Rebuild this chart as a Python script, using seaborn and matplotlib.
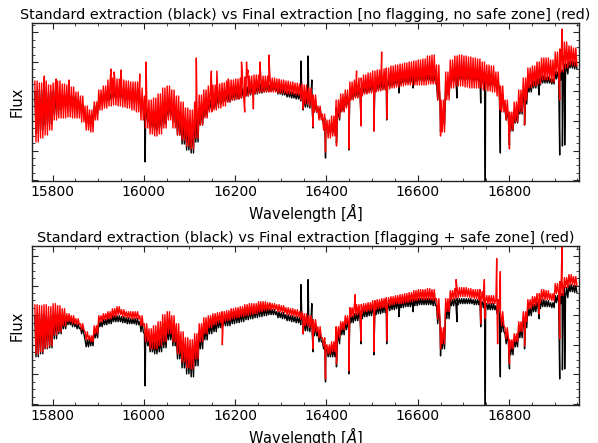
import numpy as np
import pandas as pd
import matplotlib
matplotlib.use("Agg")
import matplotlib.pyplot as plt
from matplotlib.ticker import MultipleLocator, NullFormatter
import seaborn as sns

# ---------------- data (flux in arbitrary units) ----------------
# start wavelength of each 10 A bin
bin_start = list(range(15760, 16950, 10))

# standard extraction (black): upper / lower envelope per bin
black_hi = [88, 90, 88, 88, 89, 87, 85, 85, 84, 80, 76, 64, 65, 74, 82, 84, 86, 88, 88, 87,
            86, 85, 85, 82, 70, 64, 62, 65, 70, 77, 76, 68, 62, 56, 55, 62, 72, 78, 80, 82,
            84, 85, 87, 89, 90, 91, 93, 94, 95, 96, 96, 95, 94, 92, 91, 89, 88, 87, 86, 84,
            84, 80, 72, 62, 54, 56, 72, 78, 83, 88, 90, 92, 94, 95, 97, 98, 99, 100, 101, 102,
            103, 104, 104, 105, 105, 105, 105, 105, 98, 70, 98, 104, 105, 105, 105, 105, 104, 104, 102, 100,
            100, 98, 86, 70, 58, 65, 76, 86, 96, 99, 102, 104, 103, 101, 108, 110, 116, 119, 118]
black_lo = [47, 50, 55, 56, 65, 70, 75, 79, 77, 75, 70, 57, 58, 66, 77, 79, 80, 82, 82, 81,
            80, 80, 79, 72, 58, 52, 50, 52, 56, 64, 58, 45, 36, 30, 27, 38, 55, 64, 70, 72,
            76, 78, 78, 80, 81, 82, 84, 85, 86, 87, 88, 89, 89, 86, 85, 83, 82, 81, 79, 73,
            72, 68, 62, 55, 47, 47, 60, 69, 74, 81, 83, 85, 87, 88, 89, 90, 91, 93, 94, 95,
            96, 97, 97, 98, 99, 99, 99, 98, 80, 55, 85, 98, 99, 100, 100, 100, 99, 99, 96, 94,
            94, 90, 72, 60, 49, 57, 66, 76, 88, 92, 95, 97, 97, 96, 101, 100, 106, 112, 111]
black_feat_wl = [16003, 16344, 16349, 16360, 16368, 16371, 16398, 16422, 16449, 16476, 16504,
                 16532, 16559, 16590, 16650, 16686, 16738, 16748, 16781, 16801, 16834, 16866,
                 16911, 16917, 16922]
black_feat_fx = [18, 119, 70, 124, 100, 52, 22, 37, 30, 60, 49,
                 60, 87, 92, 48, 82, 77, -1, 27, 35, 55, 85,
                 25, 34, 35]

# final extraction, no flagging / no safe zone (red, top panel)
red1_hi = [99, 97, 99, 95, 97, 99, 96, 95, 93, 88, 84, 74, 70, 78, 90, 94, 100, 102, 101, 100,
           99, 98, 98, 92, 84, 80, 82, 86, 92, 94, 90, 84, 78, 72, 70, 78, 85, 90, 94, 95,
           96, 97, 99, 100, 101, 102, 103, 104, 105, 105, 104, 104, 102, 101, 100, 99, 98, 97, 96, 95,
           92, 85, 74, 66, 60, 64, 80, 86, 90, 98, 100, 102, 105, 107, 109, 110, 111, 112, 114, 115,
           116, 117, 118, 119, 120, 121, 124, 125, 115, 80, 108, 120, 124, 125, 124, 123, 122, 121, 118, 115,
           114, 108, 94, 80, 68, 78, 90, 102, 112, 114, 118, 122, 122, 120, 128, 131, 138, 134, 132]
red1_lo = [38, 42, 45, 50, 60, 62, 62, 63, 62, 62, 58, 50, 48, 60, 70, 72, 74, 75, 74, 73,
           72, 70, 68, 60, 52, 46, 44, 46, 52, 60, 52, 45, 40, 34, 31, 42, 55, 62, 68, 70,
           72, 74, 78, 80, 81, 82, 84, 86, 87, 88, 88, 88, 88, 87, 87, 86, 86, 85, 80, 76,
           74, 68, 60, 50, 42, 44, 62, 68, 72, 80, 82, 84, 86, 87, 88, 89, 90, 91, 92, 93,
           94, 95, 95, 95, 95, 95, 96, 96, 80, 48, 80, 92, 94, 94, 93, 92, 92, 92, 90, 89,
           88, 84, 68, 60, 50, 58, 68, 80, 92, 94, 96, 100, 100, 98, 106, 108, 112, 115, 114]
red1_feat_wl = [15782, 15808, 15836, 15928, 15935, 15950, 15991, 16005, 16115, 16148, 16160,
                16185, 16214, 16221, 16225, 16228, 16240, 16254, 16274, 16349, 16371, 16398,
                16422, 16449, 16466, 16476, 16504, 16521, 16532, 16650, 16781, 16801, 16834,
                16911, 16916]
red1_feat_fx = [104, 101, 100, 111, 108, 110, 106, 118, 122, 109, 109,
                101, 118, 68, 118, 110, 71, 118, 125, 71, 53, 28,
                34, 31, 109, 54, 49, 128, 61, 44, 70, 31, 55,
                80, 151]

# final extraction, flagging + safe zone (red, bottom panel)
red2_hi = [99, 98, 99, 97, 100, 98, 95, 90, 88, 85, 80, 72, 68, 78, 88, 90, 92, 95, 97, 94,
           92, 92, 92, 88, 80, 75, 78, 82, 89, 92, 88, 80, 72, 66, 64, 70, 80, 86, 88, 90,
           91, 92, 93, 95, 96, 97, 99, 100, 100, 102, 102, 101, 100, 99, 98, 96, 95, 94, 92, 90,
           88, 84, 77, 66, 59, 62, 77, 82, 88, 96, 99, 99, 100, 101, 103, 104, 105, 106, 107, 108,
           109, 110, 111, 113, 114, 114, 115, 114, 105, 76, 105, 113, 115, 116, 116, 115, 114, 114, 112, 108,
           108, 104, 92, 76, 64, 70, 82, 92, 104, 107, 110, 114, 113, 110, 120, 122, 126, 129, 127]
red2_lo = [50, 52, 56, 58, 69, 72, 78, 82, 80, 79, 74, 64, 62, 70, 82, 84, 85, 87, 89, 87,
           86, 85, 85, 78, 62, 55, 55, 58, 62, 70, 62, 50, 42, 36, 35, 45, 62, 70, 76, 79,
           81, 82, 83, 85, 86, 87, 88, 89, 90, 92, 93, 94, 94, 92, 91, 89, 88, 87, 84, 78,
           76, 72, 66, 58, 50, 52, 66, 74, 79, 87, 89, 90, 92, 93, 94, 95, 96, 98, 99, 100,
           100, 101, 102, 103, 104, 104, 104, 103, 85, 60, 92, 104, 106, 107, 107, 106, 105, 104, 102, 100,
           100, 95, 78, 65, 55, 62, 72, 82, 95, 98, 101, 104, 104, 103, 110, 108, 116, 119, 118]
red2_feat_wl = [16172, 16349, 16371, 16398, 16422, 16449, 16463, 16476, 16504, 16532, 16650,
                16684, 16738, 16746, 16748, 16773, 16775, 16781, 16801, 16834, 16866, 16911,
                16916]
red2_feat_fx = [59, 70, 55, 25, 40, 33, 109, 63, 52, 63, 55,
                124, 80, 124, 85, 145, 60, 132, 40, 58, 90, 65,
                158]

titles = ["Standard extraction (black) vs Final extraction [no flagging, no safe zone] (red)",
          "Standard extraction (black) vs Final extraction [flagging + safe zone] (red)"]


def build(hi, lo, feat_wl, feat_fx):
    xs, ys = [], []
    for w, h, l in zip(bin_start, hi, lo):
        xs += [w + 1.25, w + 3.75, w + 6.25, w + 8.75]
        ys += [h, l, h, l]
    xs += list(feat_wl)
    ys += list(feat_fx)
    df = pd.DataFrame({"wl": xs, "flux": ys}).sort_values("wl").reset_index(drop=True)
    return df


black = build(black_hi, black_lo, black_feat_wl, black_feat_fx)
red1 = build(red1_hi, red1_lo, red1_feat_wl, red1_feat_fx)
red2 = build(red2_hi, red2_lo, red2_feat_wl, red2_feat_fx)

# ---------------- plot ----------------
sns.set_style("white")
plt.rcParams.update({
    "xtick.direction": "in", "ytick.direction": "in",
    "xtick.top": True, "ytick.right": True,
    "xtick.bottom": True, "ytick.left": True,
    "xtick.major.size": 4, "ytick.major.size": 4,
    "xtick.minor.size": 2, "ytick.minor.size": 2,
    "xtick.minor.visible": True, "ytick.minor.visible": True,
    "axes.edgecolor": "#222222", "axes.linewidth": 1.0,
})
plt.rcParams["font.family"] = ["DejaVu Sans"]

fig = plt.figure(figsize=(5.98, 4.43), dpi=100)
ax1 = fig.add_axes([0.0535, 0.5914, 0.9145, 0.3567])
ax2 = fig.add_axes([0.0535, 0.0858, 0.9145, 0.3578])

for ax, red, title in [(ax1, red1, titles[0]), (ax2, red2, titles[1])]:
    sns.lineplot(data=black, x="wl", y="flux", ax=ax, color="black", lw=1.0,
                 estimator=None, sort=False)
    sns.lineplot(data=red, x="wl", y="flux", ax=ax, color="red", lw=1.0,
                 estimator=None, sort=False)
    ax.set_xlim(15755, 16953)
    ax.set_ylim(-1, 157)
    ax.xaxis.set_major_locator(MultipleLocator(200))
    ax.xaxis.set_minor_locator(MultipleLocator(50))
    ax.yaxis.set_major_locator(MultipleLocator(29.5))
    ax.yaxis.set_minor_locator(MultipleLocator(29.5 / 4))
    ax.yaxis.set_major_formatter(NullFormatter())
    ax.tick_params(axis="x", labelsize=10, pad=3, colors="#222222", labelcolor="black")
    ax.set_title(title, fontsize=10.4, pad=3, color="black")
    ax.set_xlabel(r"Wavelength [$\AA$]", fontsize=10.5, labelpad=1, color="black")
    ax.set_ylabel("Flux", fontsize=10.5, labelpad=2, color="black")
    for s in ax.spines.values():
        s.set_visible(True)

fig.savefig("out.png", dpi=100)
